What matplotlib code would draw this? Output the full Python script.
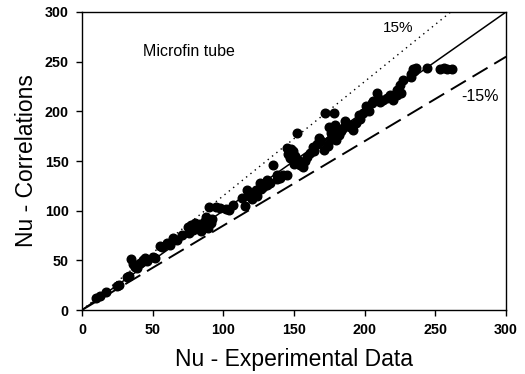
import numpy as np
import matplotlib.pyplot as plt

plt.rcParams['font.family'] = ['Liberation Sans', 'DejaVu Sans']

# Nu experimental vs Nu correlations
nu_exp = [10, 13, 17, 24.5, 26, 31.6, 33, 35, 36, 37.5, 39, 41, 43, 44.6, 46, 50.5, 52,
          55, 57, 60, 62, 64.6, 67, 70.5, 75, 76, 77, 78.8, 80, 82, 83.5, 85, 87, 88, 89,
          90, 92, 95, 98, 102, 104, 107, 113, 115, 116.5, 118, 121, 123, 124, 126, 128,
          130.6, 133, 135, 137.7, 140, 142, 144.8, 144.8, 146, 147, 149, 150, 152, 153,
          155, 156.6, 159, 161, 163.6, 166, 168, 171, 172, 174, 175, 175.4, 176, 178,
          180, 182, 185, 187, 189.6, 192, 194, 197, 199, 201, 203, 206, 208.5, 210, 213,
          216, 220, 222.6, 225, 226, 227, 233, 234.4, 236, 243.8, 253, 256, 258, 261.5,
          79, 81, 84, 86, 91, 118, 120, 127, 131, 138, 148, 151, 154, 158, 164, 169,
          177, 179, 183, 186, 191, 196, 205, 211, 218, 223, 233, 235]
nu_cor = [12, 14, 18, 24.2, 25, 32.9, 34, 51, 46, 43.6, 42, 47, 50, 52, 49, 53, 52,
          64, 63, 67, 65, 73, 70, 75.5, 84, 78, 86, 80.5, 88, 84, 87, 85, 90, 94, 83,
          104, 92, 104, 103, 102, 101, 106, 113, 105, 121, 115, 117, 121, 115, 127.5, 124,
          131, 128, 146, 136, 133, 136, 136, 163, 157, 153, 160, 147, 178.5, 151,
          148, 144, 154, 158, 164, 167, 173, 161, 198, 165, 184.6, 171, 178, 198,
          171, 176, 183, 188, 184.6, 181, 188, 192, 198, 205, 200, 210, 218, 212, 211,
          213, 211, 221.5, 226.5, 218, 231.6, 235, 243, 244, 244, 243, 244, 243, 243,
          82, 85, 80, 83, 88, 118, 112, 122, 126, 132, 162, 155, 146, 150, 160, 170,
          181, 186, 180, 190, 186, 196, 208, 209, 216, 216, 238, 241]

line_x = [0, 300]
plus15_y = [0, 345]
minus15_y = [0, 255]

fig = plt.figure(figsize=[5.25, 3.74], dpi=100)
ax = fig.add_axes([0.156, 0.171, 0.808, 0.797])

ax.plot(line_x, line_x, 'k-', lw=1.1)
ax.plot(line_x, plus15_y, 'k', ls=(0, (1, 3)), lw=1.0)
ax.plot(line_x, minus15_y, 'k', ls=(0, (9, 4)), lw=1.4)
ax.plot(nu_exp, nu_cor, 'o', color='black', ms=6.2, mec='black')

ax.set_xlim(0, 300)
ax.set_ylim(0, 300)
ax.set_xticks(np.arange(0, 301, 50))
ax.set_yticks(np.arange(0, 301, 50))
ax.tick_params(direction='out', length=4.5, width=1, labelsize=10.3, pad=5)
for lab in ax.get_xticklabels() + ax.get_yticklabels():
    lab.set_fontweight('bold')
for s in ax.spines.values():
    s.set_linewidth(1.0)

ax.text(43, 260, "Microfin tube", fontsize=11.5, va='center')
ax.text(213, 284, "15%", fontsize=11, va='center')
ax.text(268.6, 214.7, "-15%", fontsize=11.5, va='center')

ax.set_xlabel("Nu - Experimental Data", fontsize=16.5, labelpad=8)
ax.set_ylabel("Nu - Correlations", fontsize=16.5, labelpad=5)

fig.savefig("out.png", dpi=100)
